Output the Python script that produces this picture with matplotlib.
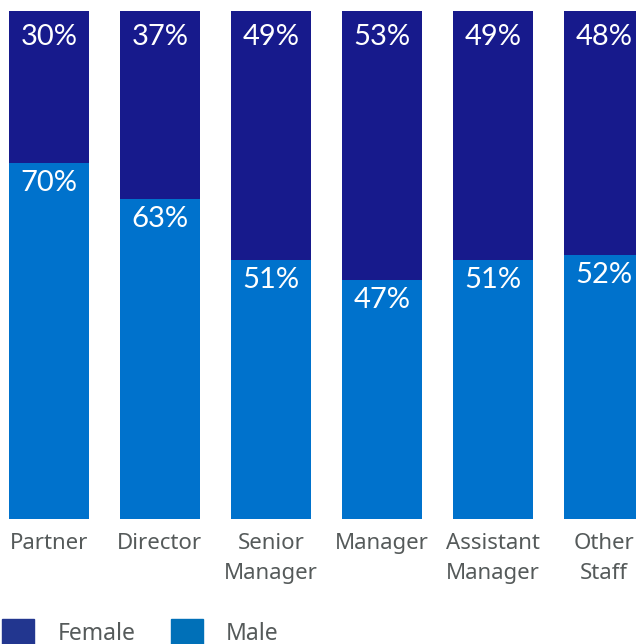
import matplotlib.pyplot as plt
from matplotlib.patches import Patch
import numpy as np

plt.rcParams['font.family'] = ['Noto Sans', 'DejaVu Sans']

# staff grade breakdown by gender (percent)
grades = ['Partner', 'Director', 'Senior\nManager', 'Manager', 'Assistant\nManager', 'Other\nStaff']
male = [70, 63, 51, 47, 51, 52]
female = [30, 37, 49, 53, 49, 48]

female_col = '#171a8c'
male_col = '#0072cc'

W, H = 636, 644
fig = plt.figure(figsize=(W / 100, H / 100), dpi=100)
ax = fig.add_axes([9 / W, (H - 519) / H, 627 / W, 508 / H])

x = np.arange(len(grades))
ax.bar(x, male, width=0.72, color=male_col)
ax.bar(x, female, width=0.72, bottom=male, color=female_col)

for i in x:
    ax.text(i, 100 - 5.2, f'{female[i]}%', ha='center', va='center',
            color='white', fontsize=21, family=['Lato', 'DejaVu Sans'])
    ax.text(i, male[i] - 3.9, f'{male[i]}%', ha='center', va='center',
            color='white', fontsize=21, family=['Lato', 'DejaVu Sans'])

ax.set_xlim(-0.36, 5.29)
ax.set_ylim(0, 100)
ax.set_xticks(x)
ax.set_xticklabels(grades, fontsize=16, color='#555a5a', linespacing=1.6)
ax.tick_params(axis='x', length=0, pad=10)
ax.set_yticks([])
for s in ax.spines.values():
    s.set_visible(False)

# legend sits at the very bottom edge, partly below the canvas
handles = [Patch(color='#22368f', label='Female'), Patch(color='#0070b8', label='Male')]
fig.legend(handles=handles, loc='upper left', bbox_to_anchor=(0.0, 27 / H),
           ncol=2, frameon=False, fontsize=16.5, labelcolor='#555a5a',
           handlelength=1.4, handleheight=1.4, handletextpad=1.0,
           columnspacing=1.55, borderaxespad=0, borderpad=0.1)

fig.savefig('out.png', dpi=100)
